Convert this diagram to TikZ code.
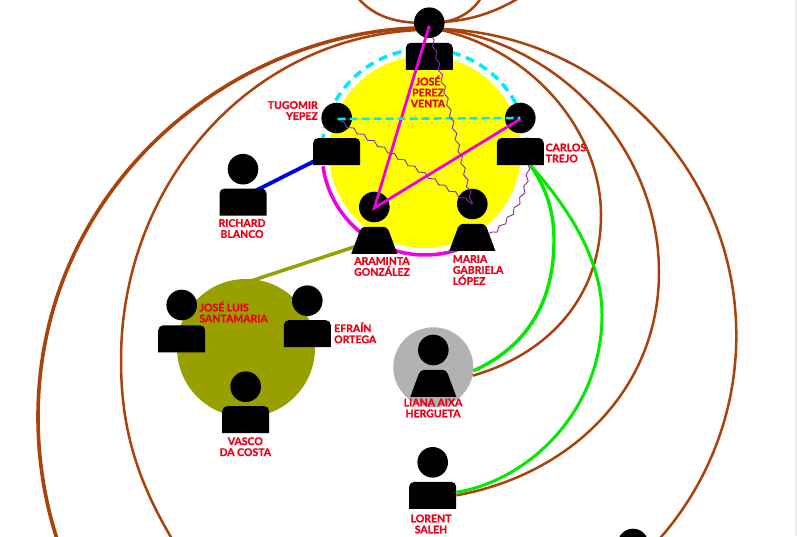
\documentclass[tikz,border=0pt]{standalone}
\usepackage{fontspec}
\setsansfont[BoldFeatures={FakeBold=1.3}]{Lato}
\usetikzlibrary{decorations.pathmorphing}

\definecolor{nameRed}{RGB}{238,0,24}
\definecolor{tieBrown}{RGB}{170,66,12}
\definecolor{tieOlive}{RGB}{152,160,0}
\definecolor{tieGreen}{RGB}{0,235,0}
\definecolor{tiePurple}{RGB}{138,43,168}
\definecolor{tieBlue}{RGB}{0,0,230}
\definecolor{starPink}{RGB}{240,0,225}
\definecolor{ringCyan}{RGB}{0,235,250}
\definecolor{coreYellow}{RGB}{255,255,0}

\pgfdeclarelayer{back}
\pgfdeclarelayer{ties}
\pgfdeclarelayer{top}
\pgfsetlayers{back,ties,main,top}

\begin{document}
\begin{tikzpicture}[
  x=1pt,
  y=-1pt,
  font=\sffamily\bfseries,
  head/.style={
    circle,
    fill=black,
    minimum size=30.6pt,
    inner sep=0pt
  },
  torso/.style={
    rectangle,
    inner sep=0pt,
    minimum width=47pt,
    minimum height=27pt,
    path picture={
      \fill (path picture bounding box.south west) [rounded corners=5pt]
        -- (path picture bounding box.north west)
        -- (path picture bounding box.north east) [sharp corners]
        -- (path picture bounding box.south east) -- cycle;
    }
  },
  skirt/.style={
    rectangle,
    inner sep=0pt,
    minimum width=46pt,
    minimum height=27pt,
    path picture={
      \fill (path picture bounding box.south west) [rounded corners=4pt]
        -- ([xshift=10pt]path picture bounding box.north west)
        -- ([xshift=-10pt]path picture bounding box.north east) [sharp corners]
        -- (path picture bounding box.south east) -- cycle;
    }
  },
  group/.style={circle, inner sep=0pt},
  nametag/.style={
    align=center,
    inner sep=0pt,
    text=nameRed,
    font=\fontsize{10.5}{11}\sffamily\bfseries
  },
  brown/.style={draw=tieBrown, line width=2.5pt},
  green/.style={draw=tieGreen, line width=3.4pt},
  ring/.style={line width=3.5pt},
  pentagram/.style={draw=starPink, line width=2.8pt},
  wavy/.style={
    draw=tiePurple,
    line width=0.9pt,
    decorate,
    decoration={snake, segment length=12pt, amplitude=1.6pt}
  }
]
\useasboundingbox (0,0) rectangle (797,536);
\clip (0,0) rectangle (797,536);

% people
\node[head] (josehead) at (429.3,22.7) {};
\node[torso] (jose) at (429.3,56.3) {};
\node[head] (tugomirhead) at (336.7,118) {};
\node[torso] (tugomir) at (336.7,151.5) {};
\node[head] (carloshead) at (520.3,118) {};
\node[torso] (carlos) at (520.3,151.5) {};
\node[head] (richardhead) at (243,169.2) {};
\node[torso] (richard) at (243,202) {};
\node[head] (aramintahead) at (374.3,207) {};
\node[skirt] (araminta) at (374.3,240.3) {};
\node[head] (mariahead) at (472.3,204) {};
\node[skirt] (maria) at (472.3,237.3) {};
\node[head] (luishead) at (181.7,305) {};
\node[torso] (luis) at (181.7,338.8) {};
\node[head] (efrainhead) at (307.3,300.7) {};
\node[torso] (efrain) at (307.3,333.7) {};
\node[head] (vascohead) at (245.7,386.7) {};
\node[torso] (vasco) at (245.7,419.7) {};
\node[head] (lianahead) at (433.3,350) {};
\node[skirt] (liana) at (433.3,383.3) {};
\node[head] (lorenthead) at (432.7,462.3) {};
\node[torso] (lorent) at (432.7,495.3) {};
\node[head] (lasthead) at (633,544) {};

% groups
\begin{pgfonlayer}{back}
\fill[gray!12] (795,0) rectangle (797,536);
\node[group, fill=coreYellow, minimum size=192pt] (core) at (425,152) {};
\node[group, fill=tieOlive, minimum size=138pt] (oliveset) at (246,348) {};
\node[group, fill=black!30, minimum size=80pt] (lianadisc) at (433.3,367.3) {};
\draw[draw=starPink, ring] (core.center) ++(172:103) arc[start angle=172, end angle=70, radius=103];
\draw[draw=ringCyan, ring, dash pattern=on 9pt off 6pt] (core.center) ++(185:103) arc[start angle=185, end angle=355, radius=103];
\end{pgfonlayer}

% free ends above and below the page
\coordinate (topleft) at (358,-2);
\coordinate (topmid) at (481,-2);
\coordinate (topright) at (519,-2);
\coordinate (offouter) at (60,548);
\coordinate (offmid) at (185,560);

\begin{pgfonlayer}{ties}
% brown ties
\draw[brown, line width=3.6pt] ([yshift=-5pt]josehead.center) .. controls (230,28) and (38,190) .. (38,417) .. controls (38,460) and (45,505) .. (offouter);
\draw[brown] ([yshift=-7pt]josehead.center) .. controls (250,32) and (121,185) .. (121,360) .. controls (121,435) and (140,490) .. (offmid);
\draw[brown] (topleft) .. controls (375,18) and (400,24) .. (josehead.center);
\draw[brown] (topmid) .. controls (471,14) and (452,24) .. (josehead.center);
\draw[brown] (topright) .. controls (495,12) and (470,22) .. (josehead.center);
\draw[brown] ([yshift=-5pt]josehead.center) .. controls (530,45) and (601,130) .. (601,215) .. controls (601,300) and (545,355) .. (lianadisc.-12);
\draw[brown] ([yshift=-5pt]josehead.center) .. controls (560,38) and (659,150) .. (659,272) .. controls (659,390) and (570,475) .. (lorent.east);
\draw[brown] ([yshift=-6pt]josehead.center) arc[start angle=270, end angle=430, radius=307];

% green ties
\draw[green] ([xshift=10pt]carlos.south) .. controls (548,190) and (554,215) .. (554,240) .. controls (554,310) and (520,350) .. (lianadisc.-5);
\draw[green, line width=3pt] ([xshift=10pt]carlos.south) .. controls (575,215) and (602,265) .. (602,315) .. controls (602,410) and (530,480) .. ([yshift=3pt]lorent.east);

% single ties
\draw[draw=tieBlue, line width=3.8pt] ([yshift=5pt]richard.center) -- ([yshift=1.7pt]tugomir.center);
\draw[draw=tieOlive, line width=3.5pt] ([yshift=-2pt]oliveset.86) -- (araminta.center);
\end{pgfonlayer}

\begin{pgfonlayer}{top}
% star inside the core
\draw[pentagram] ([yshift=-3pt]josehead.center) -- ([yshift=-1pt]aramintahead.center) -- ([yshift=-1pt]carloshead.center);
\draw[draw=ringCyan, line width=2.6pt, dash pattern=on 8pt off 4pt] ([shift={(1pt,-1pt)}]tugomirhead.center) -- (carloshead.center);
\draw[wavy] ([shift={(2.4pt,-14pt)}]josehead.center) -- (mariahead.center);
\draw[wavy] ([shift={(3pt,-3pt)}]tugomirhead.center) -- (mariahead.center);
\draw[wavy] ([xshift=8pt]carlos.south) .. controls (527,195) and (510,218) .. ([shift={(-6pt,4pt)}]maria.east);

% names
\node[nametag] (josename) at (428,91.5) {JOSÉ\\PEREZ\\VENTA};
\node[nametag, anchor=east, align=right] (tugomirname) at (318,110.5) {TUGOMIR\\YEPEZ};
\node[nametag, anchor=west, align=left] (carlosname) at (545.5,153) {CARLOS\\TREJO};
\node[nametag] (richardname) at (242,228.5) {RICHARD\\BLANCO};
\node[nametag] (aramintaname) at (382,266.5) {ARAMINTA\\GONZÁLEZ};
\node[nametag, anchor=west, align=left] (marianame) at (452.7,270) {MARIA\\GABRIELA\\LÓPEZ};
\node[nametag, anchor=west, align=left] (luisname) at (199.3,312) {JOSÉ LUIS\\SANTAMARIA};
\node[nametag, anchor=west, align=left] (efrainname) at (334,332.8) {EFRAÍN\\ORTEGA};
\node[nametag] (vasconame) at (245.3,446.7) {VASCO\\DA COSTA};
\node[nametag] (liananame) at (433,408) {LIANA AIXA\\HERGUETA};
\node[nametag] (lorentname) at (431,524) {LORENT\\SALEH};
\end{pgfonlayer}

\end{tikzpicture}
\end{document}
